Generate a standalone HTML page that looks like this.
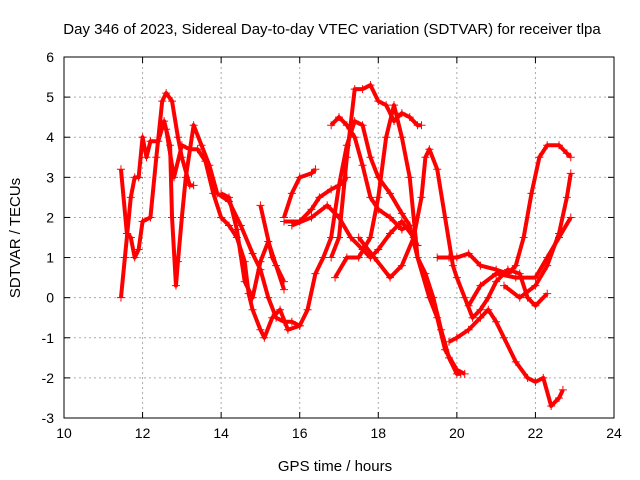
<!DOCTYPE html>
<html><head><meta charset="utf-8"><style>
body{margin:0;background:#fff}
svg{display:block;font-family:"Liberation Sans",sans-serif}
</style></head><body>
<svg id="chart" width="640" height="480">
<text x="332" y="34" font-size="15" text-anchor="middle">Day 346 of 2023, Sidereal Day-to-day VTEC variation (SDTVAR) for receiver tlpa</text>
<text x="335" y="471" font-size="15" text-anchor="middle">GPS time / hours</text>
<text transform="translate(20,238) rotate(-90)" font-size="15" text-anchor="middle">SDTVAR / TECUs</text>
<g id="grid"></g><g id="ticks"></g><g id="series"></g>
<rect x="64" y="57" width="550" height="361" fill="none" stroke="#000"/>
</svg>
<script>
const xTicks=[10,12,14,16,18,20,22,24];
const yTicks=[-3,-2,-1,0,1,2,3,4,5,6];
const track1=[[11.45,3.2],[11.6,1.6],[11.7,1.5],[11.8,1.0],[11.9,1.2],[12.0,1.9],[12.2,2.0],[12.35,3.5],[12.5,4.9],[12.6,5.1],[12.75,4.9],[12.9,4.0],[13.0,3.5],[13.2,2.8],[13.3,2.8]];
const track2=[[11.45,0],[11.55,1.0],[11.7,2.5],[11.8,3.0],[11.9,3.0],[12.0,4.0],[12.1,3.5],[12.2,3.9],[12.4,3.9],[12.55,4.4],[12.7,3.8],[12.75,2.0],[12.85,0.3],[12.9,0.9],[13.0,2.0],[13.1,3.0],[13.3,4.3],[13.5,3.8],[13.7,3.3],[13.9,2.6],[14.2,2.4],[14.5,1.8],[14.8,1.1],[15.0,0.7],[15.2,0.0],[15.4,-0.5],[15.6,-0.6],[15.8,-0.6],[16.0,-0.7],[16.2,-0.3],[16.4,0.6],[16.6,1.0],[16.8,1.5],[17.0,2.8],[17.2,3.8],[17.4,4.4],[17.6,4.3],[17.8,3.5],[18.0,3.0],[18.3,2.6],[18.6,2.1],[18.8,1.8],[19.0,1.0],[19.2,0.6],[19.4,0.0],[19.6,-0.8],[19.8,-1.5],[20.0,-1.9],[20.1,-1.9]];
const track3=[[12.6,4.2],[12.8,3.0],[13.0,3.8],[13.2,3.7],[13.4,3.7],[13.6,3.4],[13.8,2.6],[14.0,2.0],[14.2,1.8],[14.4,1.5],[14.6,0.9],[14.7,0.1],[14.8,-0.3],[15.0,-0.8],[15.1,-1.0],[15.3,-0.5],[15.5,-0.3],[15.7,-0.8],[16.0,-0.7]];
const track4=[[14.0,2.6],[14.2,2.5],[14.4,1.7],[14.6,0.4],[14.8,0.0],[15.0,0.9],[15.2,1.4],[15.4,0.8],[15.6,0.2]];
const track5=[[15.0,2.3],[15.3,1.0],[15.6,0.4]];
const track6=[[15.6,2.0],[15.8,2.6],[16.0,3.0],[16.3,3.1],[16.4,3.2]];
const track7=[[15.6,1.9],[16.0,1.9],[16.3,2.2],[16.5,2.5],[16.8,2.7],[17.0,2.8],[17.2,3.0]];
const track8=[[15.8,1.8],[16.3,2.0],[16.7,2.3],[17.0,2.0],[17.3,1.5],[17.6,1.2],[17.8,1.0],[18.0,1.2],[18.3,1.6],[18.6,1.9],[18.9,1.5],[19.0,1.3]];
const track9=[[16.8,4.3],[17.0,4.5],[17.2,4.3],[17.4,4.0],[17.6,3.3],[17.8,2.5],[18.0,2.2],[18.3,2.0],[18.6,1.7],[18.8,1.8]];
const track10=[[16.8,1.0],[17.0,1.5],[17.2,3.5],[17.4,5.2],[17.6,5.2],[17.8,5.3],[18.0,4.9],[18.2,4.8],[18.4,4.4],[18.6,4.6],[18.8,4.5],[19.0,4.3],[19.1,4.3]];
const track11=[[16.9,0.5],[17.2,1.0],[17.5,1.0],[17.8,1.5],[18.0,2.5],[18.2,4.0],[18.4,4.8],[18.6,4.0],[18.8,3.0],[19.0,1.0],[19.3,0.0],[19.5,-0.5],[19.7,-1.3],[20.0,-1.8],[20.2,-1.9]];
const track12=[[17.5,1.5],[17.9,1.0],[18.3,0.5],[18.6,0.8],[18.9,1.5],[19.1,2.5],[19.2,3.5],[19.3,3.7],[19.5,3.2],[19.7,2.0],[19.9,0.8],[20.0,0.5],[20.2,0.0],[20.4,-0.5],[20.6,-0.3],[20.8,0.0],[21.0,0.4],[21.3,0.7],[21.6,0.6],[21.8,0.0],[22.0,-0.2],[22.3,0.1]];
const track13=[[19.5,1.0],[19.8,1.0],[20.0,1.0],[20.3,1.1],[20.6,0.8],[21.0,0.7],[21.3,0.6],[21.5,0.8],[21.7,1.5],[21.9,2.6],[22.1,3.5],[22.3,3.8],[22.6,3.8],[22.8,3.6],[22.9,3.5]];
const track14=[[19.8,-1.1],[20.0,-1.0],[20.3,-0.8],[20.6,-0.5],[20.8,-0.3],[21.0,-0.6],[21.2,-1.0],[21.5,-1.6],[21.8,-2.0],[22.0,-2.1],[22.2,-2.0],[22.4,-2.7],[22.6,-2.5],[22.7,-2.3]];
const track15=[[20.3,-0.2],[20.6,0.3],[21.0,0.6],[21.5,0.5],[22.0,0.5],[22.3,1.0],[22.6,1.5],[22.9,2.0]];
const track16=[[21.2,0.3],[21.6,0.0],[22.0,0.3],[22.3,0.8],[22.6,1.6],[22.8,2.5],[22.9,3.1]];
const tracks=[track1,track2,track3,track4,track5,track6,track7,track8,track9,track10,track11,track12,track13,track14,track15,track16];

const NS="http://www.w3.org/2000/svg";
const X0=64,X1=614,Y0=418,Y1=57;
const xs=v=>X0+(v-10)/(24-10)*(X1-X0);
const ys=v=>Y0-(v+3)/(6+3)*(Y0-Y1);
function mk(tag,attrs,parent){const e=document.createElementNS(NS,tag);for(const k in attrs)e.setAttribute(k,attrs[k]);parent.appendChild(e);return e;}
const grid=document.getElementById('grid'),ticks=document.getElementById('ticks'),ser=document.getElementById('series');
xTicks.forEach(t=>{
  const x=xs(t);
  if(t>10&&t<24){const g=mk('line',{x1:x,x2:x,y1:Y1,y2:Y0,stroke:'#aaa','stroke-dasharray':'2,3'},grid);
  
  }
  mk('line',{x1:x,x2:x,y1:Y0,y2:Y0-6,stroke:'#000'},ticks);
  mk('line',{x1:x,x2:x,y1:Y1,y2:Y1+6,stroke:'#000'},ticks);
  const l=mk('text',{x:x,y:Y0+20,'font-size':14,'text-anchor':'middle'},ticks);l.textContent=t;
  
  
});
yTicks.forEach(t=>{
  const y=ys(t);
  if(t>-3&&t<6){const g=mk('line',{x1:X0,x2:X1,y1:y,y2:y,stroke:'#aaa','stroke-dasharray':'2,3'},grid);
  
  }
  mk('line',{x1:X0,x2:X0+6,y1:y,y2:y,stroke:'#000'},ticks);
  mk('line',{x1:X1,x2:X1-6,y1:y,y2:y,stroke:'#000'},ticks);
  const l=mk('text',{x:X0-10,y:y+5,'font-size':14,'text-anchor':'end'},ticks);l.textContent=t;
  
  
});
tracks.forEach((tr,i)=>{
  const g=mk('g',{},ser);
  
  
  mk('polyline',{points:tr.map(p=>xs(p[0])+','+ys(p[1])).join(' '),fill:'none',stroke:'#f00','stroke-width':4,'stroke-linejoin':'round'},g);
  tr.forEach(p=>{const x=xs(p[0]),y=ys(p[1]);
    mk('path',{d:`M${x-4},${y}H${x+4}M${x},${y-4}V${y+4}`,stroke:'#f00','stroke-width':1},g);});
});
</script>
</body></html>
